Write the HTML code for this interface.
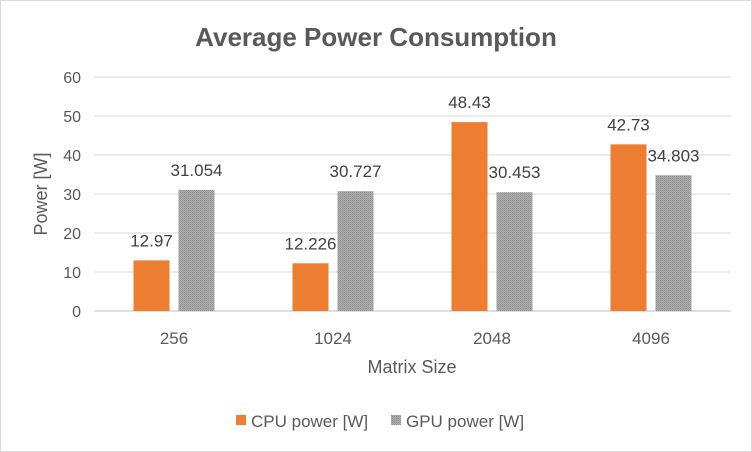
<!DOCTYPE html>
<html><head><meta charset="utf-8"><style>
html,body{margin:0;padding:0;background:#fff;}
svg{display:block;font-family:"Liberation Sans",sans-serif;}
</style></head><body>
<svg id="chart" width="752" height="452" viewBox="0 0 752 452">
<defs>
<pattern id="dots" width="2" height="2" patternUnits="userSpaceOnUse">
<rect width="2" height="2" fill="#b0b0b0"/>
<rect width="1" height="1" fill="#8f8f8f"/>
<rect x="1" y="1" width="1" height="1" fill="#9a9a9a"/>
</pattern>
</defs>
<rect x="0.5" y="0.5" width="751" height="451" fill="#fff" stroke="#d9d9d9"/>
<text x="376" y="46" text-anchor="middle" font-size="26" font-weight="bold" fill="#595959">Average Power Consumption</text>
<g id="grid"></g><g id="bars"></g><g id="labels"></g>
<text x="0" y="0" transform="translate(47,194) rotate(-90)" text-anchor="middle" font-size="18" fill="#595959">Power [W]</text>
<text x="412" y="373" text-anchor="middle" font-size="18" fill="#595959">Matrix Size</text>
<g>
<rect x="236" y="415" width="10" height="10" fill="#ed7d31"/>
<text x="251" y="427" font-size="17" fill="#595959">CPU power [W]</text>
<rect x="391" y="415" width="10" height="10" fill="url(#dots)"/>
<text x="406" y="427" font-size="17" fill="#595959">GPU power [W]</text>
</g>
</svg>
<script>
const categories=["256","1024","2048","4096"];
const cpuValues=[12.97,12.226,48.43,42.73];
const gpuValues=[31.054,30.727,30.453,34.803];
const cpuLabels=["12.97","12.226","48.43","42.73"];
const gpuLabels=["31.054","30.727","30.453","34.803"];
const yTicks=[0,10,20,30,40,50,60];
const NS="http://www.w3.org/2000/svg";
const x0=94.5,x1=730.5,yBase=311,yTop=77,yMax=60;
const y=v=>yBase-(v/yMax)*(yBase-yTop);
const band=(x1-x0)/categories.length;
const xc=i=>x0+band*(i+0.5);
function mk(tag,attrs,parent){const e=document.createElementNS(NS,tag);for(const k in attrs)e.setAttribute(k,attrs[k]);parent.appendChild(e);return e;}
const grid=document.getElementById('grid'),bars=document.getElementById('bars'),labels=document.getElementById('labels');
yTicks.forEach(t=>{
 const l=mk('line',{x1:x0,x2:x1,y1:y(t),y2:y(t),stroke:t===0?'#bfbfbf':'#d9d9d9','stroke-width':1},grid);
 
 
 const tx=mk('text',{x:81,y:y(t)+6,'text-anchor':'end','font-size':16,fill:'#595959'},grid);
 tx.textContent=t;
 
 
});
const bw=36,gap=9;
categories.forEach((c,i)=>{
 const cx=xc(i);
 const cb=mk('rect',{x:cx-gap/2-bw,y:y(cpuValues[i]),width:bw,height:yBase-y(cpuValues[i]),fill:'#ed7d31'},bars);
 
 
 const gb=mk('rect',{x:cx+gap/2,y:y(gpuValues[i]),width:bw,height:yBase-y(gpuValues[i]),fill:'url(#dots)'},bars);
 
 
 const cl=mk('text',{x:cx-gap/2-bw/2,y:y(cpuValues[i])-14,'text-anchor':'middle','font-size':17,fill:'#404040'},labels);
 cl.textContent=cpuLabels[i];
 
 
 const gl=mk('text',{x:cx+gap/2+bw/2,y:y(gpuValues[i])-14,'text-anchor':'middle','font-size':17,fill:'#404040'},labels);
 gl.textContent=gpuLabels[i];
 
 
 const xl=mk('text',{x:cx,y:344,'text-anchor':'middle','font-size':17,fill:'#595959'},labels);
 xl.textContent=c;
 
 
});
</script>
</body></html>
